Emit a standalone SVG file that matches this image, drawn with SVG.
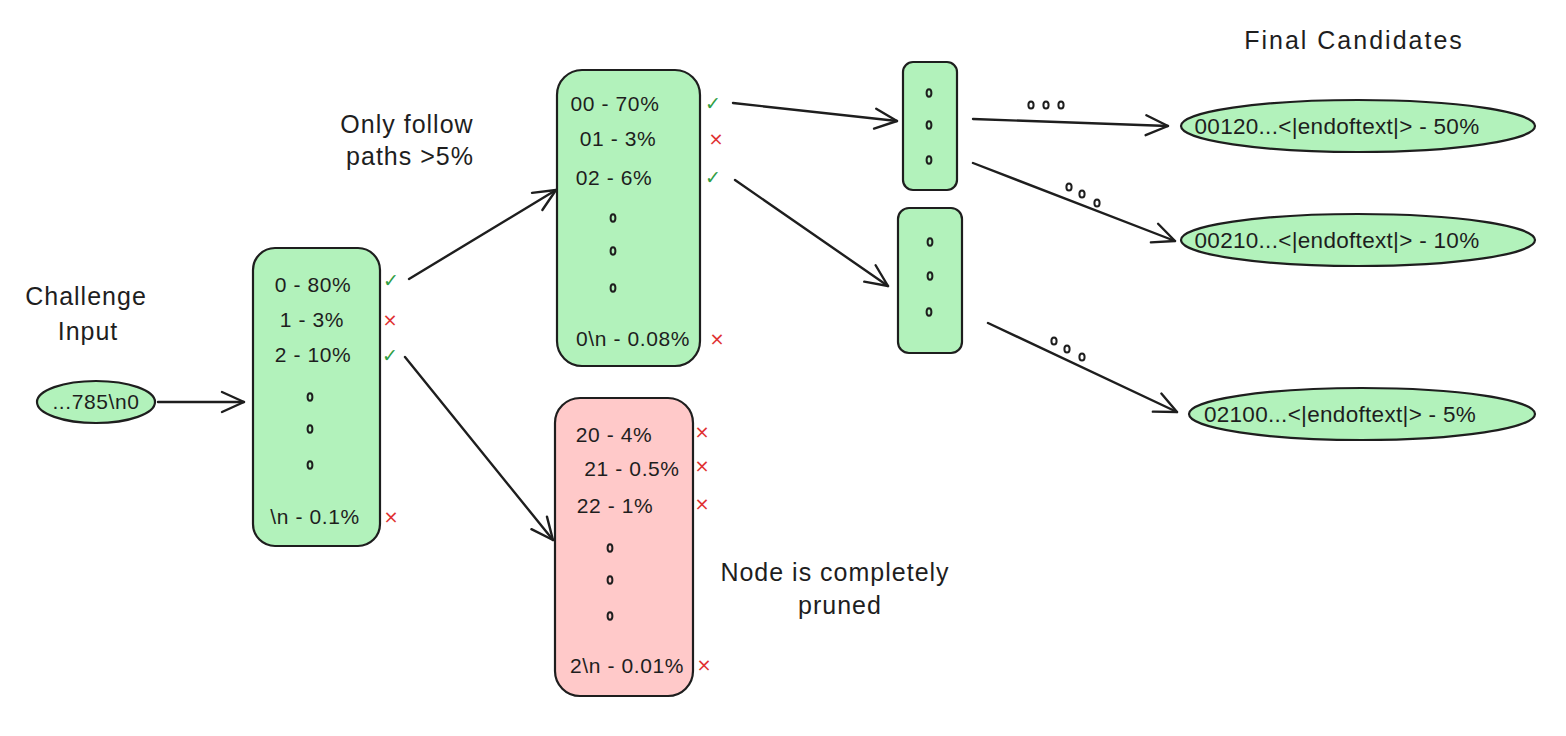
<svg xmlns="http://www.w3.org/2000/svg" width="1566" height="736" viewBox="0 0 1566 736">
<defs>
<marker id="arr" viewBox="0 0 26 26" refX="24" refY="13" markerWidth="26" markerHeight="26" markerUnits="userSpaceOnUse" orient="auto">
<path d="M2,3 L24,13 L2,23" fill="none" stroke="#1e1e1e" stroke-width="2.4" stroke-linecap="round" stroke-linejoin="round"/>
</marker>
</defs>
<style>
text{font-family:"Liberation Sans",Arial,sans-serif;fill:#1e1e1e;}
.t{font-size:21px;text-anchor:middle;letter-spacing:0.6px;}
.lbl{font-size:25px;text-anchor:middle;letter-spacing:1px;}
.ok{font-family:"DejaVu Sans",sans-serif;font-size:19px;fill:#2f9e44;text-anchor:middle;}
.no{font-family:"DejaVu Sans",sans-serif;font-size:18px;fill:#e03131;text-anchor:middle;}
.g{fill:#b2f2bb;stroke:#1e1e1e;stroke-width:2.2;}
.r{fill:#ffc9c9;stroke:#1e1e1e;stroke-width:2.2;}
.d{fill:none;stroke:#1e1e1e;stroke-width:2;}
.c{fill:none;stroke:#1e1e1e;stroke-width:2.4;stroke-linecap:round;marker-end:url(#arr);}
.e{font-size:22.5px;text-anchor:middle;letter-spacing:0.3px;}
</style>
<rect width="1566" height="736" fill="#ffffff"/>

<g id="labels">
<text class="lbl" x="86" y="305">Challenge</text>
<text class="lbl" x="88" y="340">Input</text>
<text class="lbl" x="407" y="133">Only follow</text>
<text class="lbl" x="410" y="165">paths &gt;5%</text>
<text class="lbl" x="835" y="581">Node is completely</text>
<text class="lbl" x="840" y="614">pruned</text>
<text class="lbl" x="1354" y="49" style="letter-spacing:2px">Final Candidates</text>
</g>

<g id="connectors">
<line class="c" x1="158" y1="402" x2="244" y2="402"/>
<line class="c" x1="409" y1="279" x2="556" y2="190"/>
<line class="c" x1="405" y1="357" x2="553" y2="540" stroke-width="3.4"/>
<line class="c" x1="733" y1="103" x2="897" y2="121"/>
<line class="c" x1="735" y1="180" x2="888" y2="286"/>
<line class="c" x1="973" y1="119" x2="1168" y2="126" stroke-width="3.4"/>
<line class="c" x1="973" y1="163" x2="1175" y2="241"/>
<line class="c" x1="988" y1="323" x2="1177" y2="412"/>
<g id="connector-dots">
<ellipse class="d" cx="1031" cy="105" rx="2.6" ry="3.6"/>
<ellipse class="d" cx="1046" cy="105" rx="2.6" ry="3.6"/>
<ellipse class="d" cx="1061" cy="105" rx="2.6" ry="3.6"/>
<ellipse class="d" cx="1069" cy="187" rx="2.6" ry="3.6"/>
<ellipse class="d" cx="1082" cy="194" rx="2.6" ry="3.6"/>
<ellipse class="d" cx="1097" cy="203" rx="2.6" ry="3.6"/>
<ellipse class="d" cx="1054" cy="341" rx="2.6" ry="3.6"/>
<ellipse class="d" cx="1067" cy="349" rx="2.6" ry="3.6"/>
<ellipse class="d" cx="1082" cy="357" rx="2.6" ry="3.6"/>
</g>
</g>

<g id="input">
<ellipse class="g" cx="96" cy="402" rx="59" ry="21"/>
<text class="t" x="96" y="409">...785\n0</text>
</g>

<g id="node-level1">
<rect class="g" x="253" y="248" width="127" height="298" rx="22"/>
<text class="t" x="313" y="292">0 - 80%</text>
<text class="t" x="312" y="327">1 - 3%</text>
<text class="t" x="313" y="362">2 - 10%</text>
<ellipse class="d" cx="310" cy="397" rx="2.4" ry="3.8"/>
<ellipse class="d" cx="310" cy="429" rx="2.4" ry="3.8"/>
<ellipse class="d" cx="310" cy="465" rx="2.4" ry="3.8"/>
<text class="t" x="315" y="524">\n - 0.1%</text>
<text class="ok" x="391" y="287">✓</text>
<text class="no" x="390" y="326">×</text>
<text class="ok" x="390" y="362">✓</text>
<text class="no" x="391" y="523">×</text>
</g>

<g id="node-level2-0">
<rect class="g" x="557" y="70" width="143" height="296" rx="25"/>
<text class="t" x="615" y="111">00 - 70%</text>
<text class="t" x="618" y="146">01 - 3%</text>
<text class="t" x="614" y="185">02 - 6%</text>
<ellipse class="d" cx="613" cy="218" rx="2.4" ry="3.8"/>
<ellipse class="d" cx="613" cy="251" rx="2.4" ry="3.8"/>
<ellipse class="d" cx="613" cy="288" rx="2.4" ry="3.8"/>
<text class="t" x="633" y="346">0\n - 0.08%</text>
<text class="ok" x="713" y="110">✓</text>
<text class="no" x="716" y="145">×</text>
<text class="ok" x="713" y="184">✓</text>
<text class="no" x="717" y="345">×</text>
</g>

<g id="node-level2-2">
<rect class="r" x="555" y="398" width="138" height="298" rx="25"/>
<text class="t" x="614" y="442">20 - 4%</text>
<text class="t" x="632" y="476">21 - 0.5%</text>
<text class="t" x="615" y="513">22 - 1%</text>
<ellipse class="d" cx="610" cy="548" rx="2.4" ry="3.8"/>
<ellipse class="d" cx="610" cy="580" rx="2.4" ry="3.8"/>
<ellipse class="d" cx="610" cy="616" rx="2.4" ry="3.8"/>
<text class="t" x="627" y="673">2\n - 0.01%</text>
<text class="no" x="702" y="438">×</text>
<text class="no" x="702" y="472">×</text>
<text class="no" x="702" y="510">×</text>
<text class="no" x="704" y="671">×</text>
</g>

<g id="node-level3-00">
<rect class="g" x="903" y="62" width="54" height="128" rx="10"/>
<ellipse class="d" cx="929" cy="93" rx="2.4" ry="3.8"/>
<ellipse class="d" cx="929" cy="125" rx="2.4" ry="3.8"/>
<ellipse class="d" cx="929" cy="160" rx="2.4" ry="3.8"/>
</g>

<g id="node-level3-02">
<rect class="g" x="898" y="208" width="64" height="145" rx="11"/>
<ellipse class="d" cx="930" cy="242" rx="2.4" ry="3.8"/>
<ellipse class="d" cx="930" cy="276" rx="2.4" ry="3.8"/>
<ellipse class="d" cx="929" cy="312" rx="2.4" ry="3.8"/>
</g>

<g id="candidate-1">
<ellipse class="g" cx="1358" cy="126" rx="177" ry="26"/>
<text class="e" x="1337" y="134">00120...&lt;|endoftext|&gt; - 50%</text>
</g>
<g id="candidate-2">
<ellipse class="g" cx="1358" cy="240" rx="177" ry="26"/>
<text class="e" x="1337" y="248">00210...&lt;|endoftext|&gt; - 10%</text>
</g>
<g id="candidate-3">
<ellipse class="g" cx="1362" cy="414" rx="173" ry="26"/>
<text class="e" x="1340" y="422">02100...&lt;|endoftext|&gt; - 5%</text>
</g>
</svg>
